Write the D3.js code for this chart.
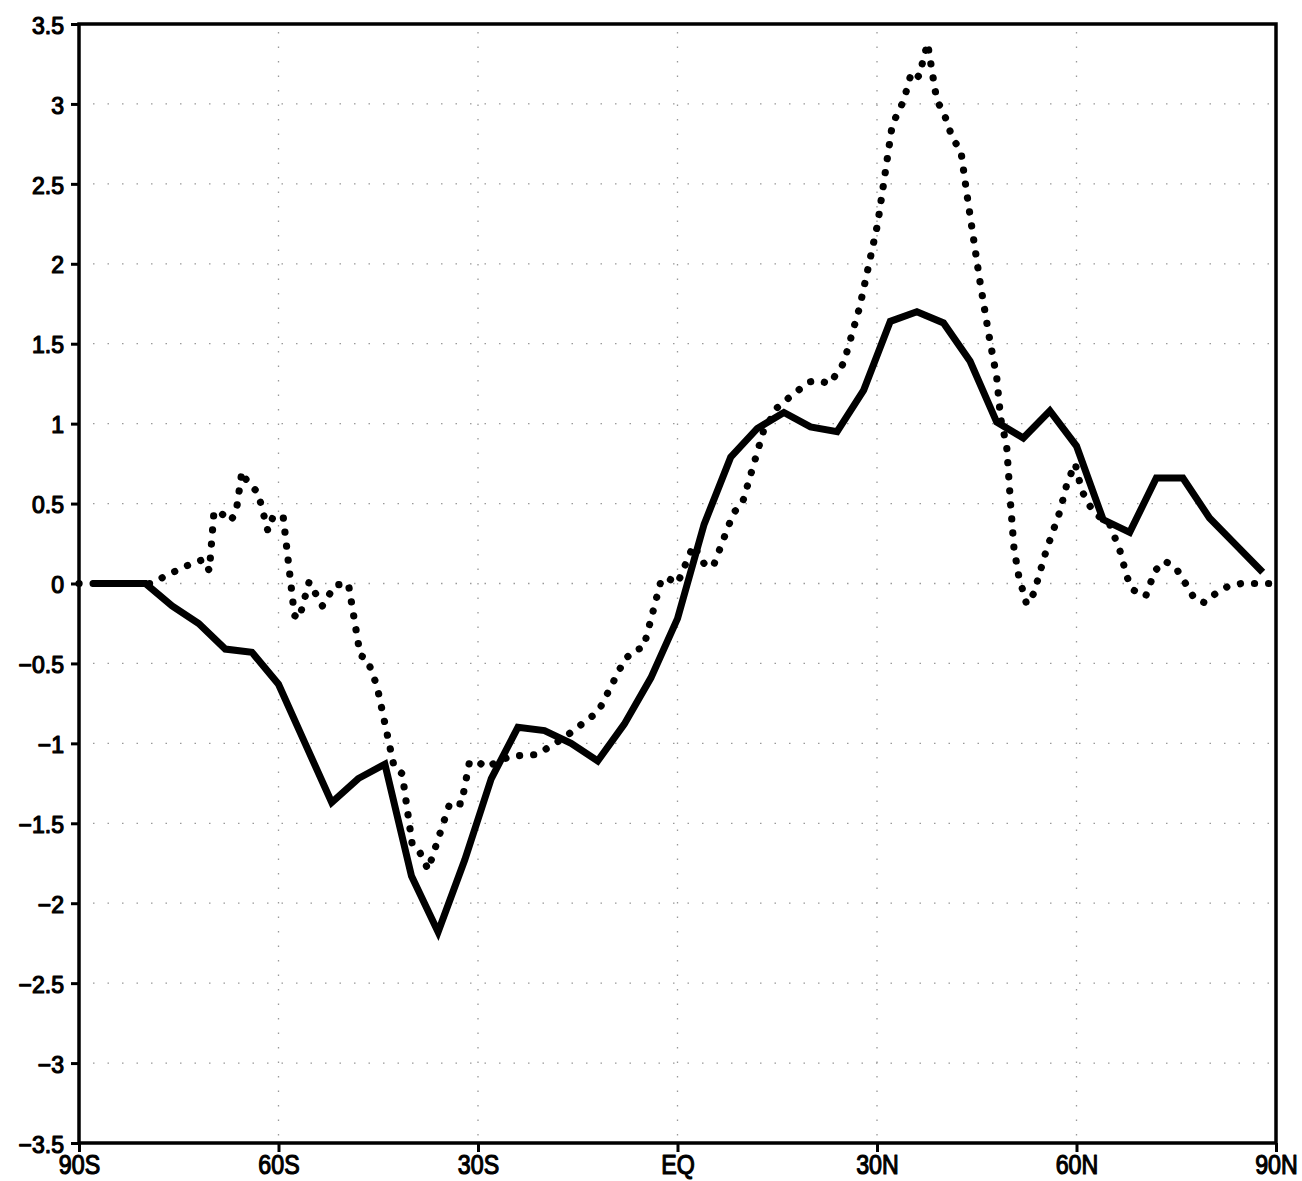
<!DOCTYPE html>
<html><head><meta charset="utf-8">
<script src="https://cdn.jsdelivr.net/npm/d3@7"></script>
<style>body{margin:0;background:#fff}svg{display:block}text{font-family:"Liberation Sans",Arial,sans-serif;fill:#000}</style>
</head><body>
<svg id="c" width="1302" height="1181"></svg>
<script>
// Tick labels
const xTickVals = [-90,-60,-30,0,30,60,90];
const xTickLabels = ["90S","60S","30S","EQ","30N","60N","90N"];
const yTickVals = [3.5,3,2.5,2,1.5,1,0.5,0,-0.5,-1,-1.5,-2,-2.5,-3,-3.5];
const yTickLabels = ["3.5","3","2.5","2","1.5","1","0.5","0","\u22120.5","\u22121","\u22121.5","\u22122","\u22122.5","\u22123","\u22123.5"];
const gridX = [-60,-30,0,30,60];
const gridY = [3,2.5,2,1.5,1,0.5,0,-0.5,-1,-1.5,-2,-2.5,-3];

// Solid series
const solidLat = [-88,-84,-80,-76,-72,-68,-64,-60,-56,-52,-48,-44,-40,-36,-32,-28,-24,-20,-16,-12,-8,-4,0,4,8,12,16,20,24,28,32,36,40,44,48,52,56,60,64,68,72,76,80,84,88];
const solidVal = [0,0,0,-0.14,-0.25,-0.41,-0.43,-0.63,-1.0,-1.37,-1.22,-1.13,-1.83,-2.18,-1.73,-1.22,-0.9,-0.92,-1.0,-1.11,-0.88,-0.59,-0.22,0.37,0.79,0.97,1.07,0.98,0.95,1.21,1.64,1.70,1.63,1.39,1.01,0.91,1.08,0.86,0.4,0.32,0.66,0.66,0.41,0.24,0.07];

// Dotted series
const dotLat = [-90,-79.0,-76.9,-73.3,-71.3,-70.4,-69.7,-68.9,-67.3,-66.4,-65.5,-64.6,-63.1,-61.6,-60.8,-59.3,-57.6,-56.9,-55.4,-53.4,-51.5,-49.5,-47.7,-46.7,-45.2,-42.6,-41.4,-39.9,-39.0,-37.5,-34.2,-32.5,-31.3,-30.1,-28.9,-25.1,-21.1,-16.9,-11.9,-8.0,-6.6,-5.1,-2.4,-1.1,0.0,2.4,4.2,5.4,8.4,9.8,12.9,15.0,16.7,19.7,21.1,22.9,25.0,27.4,30.1,32.3,34.0,35.2,36.3,37.6,39.0,40.0,41.4,42.6,43.5,45.4,46.8,48.0,48.6,49.5,50.1,50.6,51.3,52.5,53.6,55.4,57.5,58.6,59.8,60.8,62.6,64.9,66.5,67.6,68.5,70.4,71.8,73.3,74.9,76.7,77.8,79.3,81.0,82.7,84.8,90];
const dotVal = [0,0,0.05,0.12,0.15,0.08,0.45,0.45,0.39,0.44,0.70,0.63,0.57,0.33,0.42,0.42,-0.20,-0.22,0.01,-0.14,-0.01,0.0,-0.45,-0.47,-0.64,-1.15,-1.19,-1.63,-1.66,-1.79,-1.37,-1.38,-1.12,-1.11,-1.15,-1.08,-1.07,-0.96,-0.80,-0.48,-0.42,-0.40,0.03,0.025,0.0,0.24,0.11,0.11,0.44,0.51,0.95,1.10,1.16,1.26,1.27,1.25,1.38,1.73,2.25,2.87,3.02,3.20,3.17,3.38,3.02,2.95,2.78,2.71,2.44,1.91,1.56,1.29,1.03,0.86,0.49,0.22,0.05,-0.13,-0.06,0.20,0.45,0.63,0.75,0.58,0.44,0.38,0.21,0.04,-0.04,-0.08,0.08,0.14,0.10,-0.02,-0.10,-0.12,-0.06,-0.02,0.0,0.0];

const svg = d3.select("#c");
const L = 79, R = 1276, T = 24, B = 1143;
const x = d3.scaleLinear().domain([-90,90]).range([L,R]);
const y = d3.scaleLinear().domain([-3.5,3.5]).range([B,T]);

// grid
const g = svg.append("g");
g.selectAll("line.gx").data(gridX).join("line")
  .attr("x1",d=>x(d)).attr("x2",d=>x(d)).attr("y1",T+8).attr("y2",B)
  .attr("stroke","#999").attr("stroke-width",1.3).attr("stroke-dasharray","1.5 13");
g.selectAll("line.gy").data(gridY).join("line")
  .attr("x1",L+14).attr("x2",R).attr("y1",d=>y(d)).attr("y2",d=>y(d))
  .attr("stroke","#999").attr("stroke-width",1.3).attr("stroke-dasharray","1.5 13");

// series
const line = d3.line().x(d=>x(d[0])).y(d=>y(d[1]));
svg.append("path").datum(dotLat.map((d,i)=>[d,dotVal[i]]))
  .attr("d",line).attr("fill","none").attr("stroke","#000")
  .attr("stroke-width",7.2).attr("stroke-linecap","round").attr("stroke-linejoin","round")
  .attr("stroke-dasharray","0.1 14");
svg.append("path").datum(solidLat.map((d,i)=>[d,solidVal[i]]))
  .attr("d",line).attr("fill","none").attr("stroke","#000")
  .attr("stroke-width",7).attr("stroke-linejoin","miter");

// axes
const xAxis = d3.axisBottom(x).tickValues(xTickVals).tickFormat((d,i)=>xTickLabels[i]).tickSize(9).tickPadding(2);
const yAxis = d3.axisLeft(y).tickValues(yTickVals).tickFormat((d,i)=>yTickLabels[i]).tickSize(8).tickPadding(7);
const ax = svg.append("g").attr("transform",`translate(0,${B})`).call(xAxis);
const ay = svg.append("g").attr("transform",`translate(${L},0)`).call(yAxis);
[ax,ay].forEach(a=>{
  a.attr("font-size",null).attr("font-family",null);
  a.select(".domain").remove();
  a.selectAll(".tick line").attr("stroke","#000").attr("stroke-width",3);
  a.selectAll(".tick text").style("font-family","'Liberation Sans', Arial, sans-serif")
    .attr("fill","#000").attr("stroke","#000").attr("stroke-width",1.2).attr("stroke-linejoin","round");
});
ax.selectAll(".tick text").style("font-size","27px").attr("y",31).attr("dy",null)
  .attr("transform","scale(0.86,1)");
ay.selectAll(".tick text").style("font-size","23px").attr("dy","0.4em");

// frame
svg.append("rect").attr("x",L).attr("y",T).attr("width",R-L).attr("height",B-T)
  .attr("fill","none").attr("stroke","#000").attr("stroke-width",3.5);
</script>
</body></html>
